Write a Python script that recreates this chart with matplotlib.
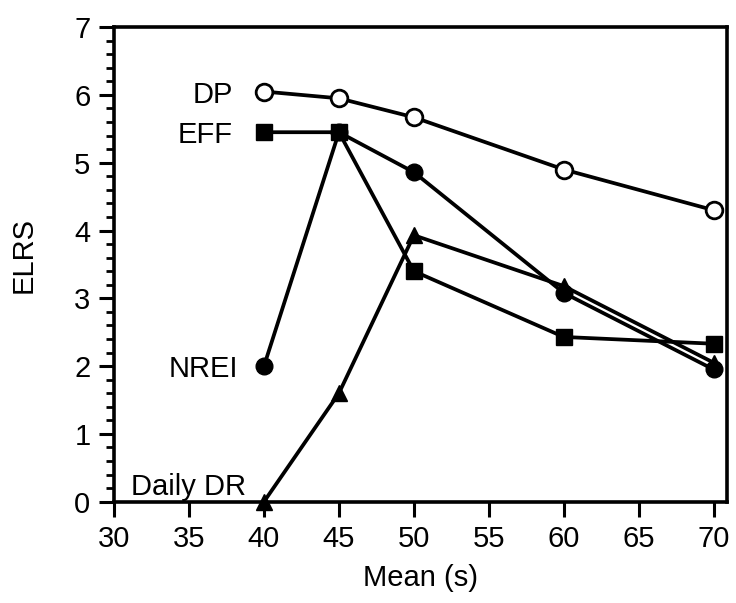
import matplotlib
matplotlib.use("Agg")
import matplotlib.pyplot as plt
from matplotlib.ticker import MultipleLocator

plt.rcParams['font.family'] = ['Liberation Sans', 'DejaVu Sans']

# Mean duration (s) and ELRS for each criterion
mean_s = [40, 45, 50, 60, 70]
dp = [6.05, 5.95, 5.67, 4.9, 4.3]
eff = [5.45, 5.45, 3.4, 2.43, 2.33]
nrei = [2.0, 5.45, 4.86, 3.08, 1.95]
daily_dr = [0.0, 1.6, 3.93, 3.18, 2.05]

fig = plt.figure(figsize=(7.36, 6.03), dpi=100)
ax = fig.add_axes([0.155, 0.168, 0.833, 0.787])

lw = 2.7
ax.plot(mean_s, dp, '-o', color='black', lw=lw, ms=12, mfc='white', mec='black', mew=2, zorder=3)
ax.plot(mean_s, eff, '-s', color='black', lw=lw, ms=11, zorder=3)
ax.plot(mean_s, nrei, '-o', color='black', lw=lw, ms=12, zorder=3)
ax.plot(mean_s, daily_dr, '-^', color='black', lw=lw, ms=11, zorder=3, clip_on=False)

fs = 21
ax.text(37.9, dp[0], 'DP', ha='right', va='center_baseline', fontsize=fs)
ax.text(37.9, eff[0], 'EFF', ha='right', va='center_baseline', fontsize=fs)
ax.text(38.3, nrei[0], 'NREI', ha='right', va='center_baseline', fontsize=fs)
ax.text(31.1, 0.1, 'Daily DR', ha='left', va='baseline', fontsize=fs)

ax.set_xlim(30, 70.9)
ax.set_ylim(0, 7)
ax.xaxis.set_major_locator(MultipleLocator(5))
ax.yaxis.set_major_locator(MultipleLocator(1))
ax.yaxis.set_minor_locator(MultipleLocator(0.2))

ax.tick_params(axis='both', which='major', direction='out', length=11, width=2.2, labelsize=fs, pad=6)
ax.tick_params(axis='y', which='minor', direction='out', length=6, width=2)

for sp in ax.spines.values():
    sp.set_linewidth(2.6)

ax.set_xlabel('Mean (s)', fontsize=fs, labelpad=8)
ax.set_ylabel('ELRS', fontsize=fs)
ax.yaxis.set_label_coords(-0.125, 0.52)

fig.savefig('out.png', dpi=100)
